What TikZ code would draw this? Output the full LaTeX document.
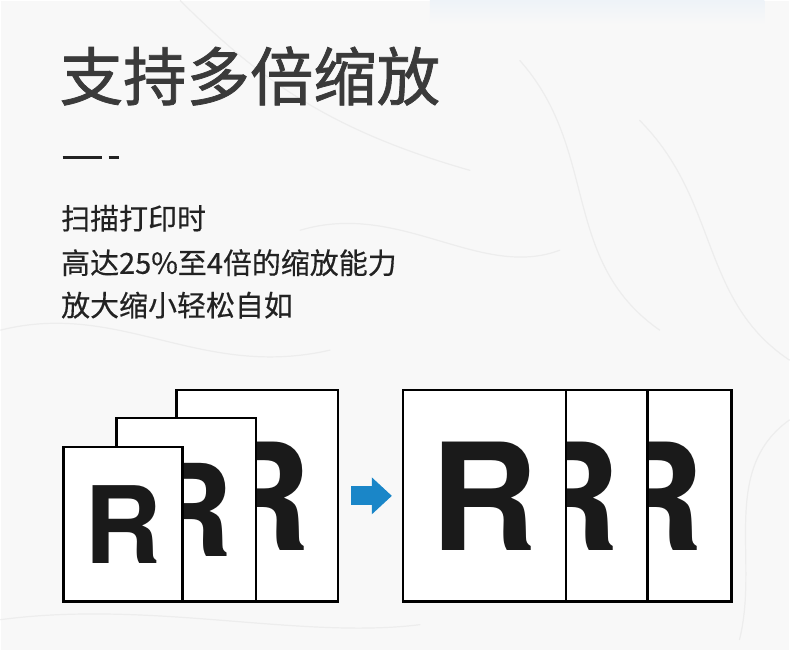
\documentclass[tikz,border=0pt]{standalone}
\usepackage{fontspec}
\setmainfont{TeX Gyre Heros}
\newfontfamily\cjk[FakeBold=0.4]{Noto Sans CJK SC}
\newfontfamily\cjkhead[FakeBold=1.2]{Noto Sans CJK SC}
\usetikzlibrary{arrows.meta}

\definecolor{marble}{HTML}{F8F8F8}
\definecolor{vein}{HTML}{EDEDED}
\definecolor{skyblue}{HTML}{EEF3F8}
\definecolor{ink}{HTML}{1A1A1A}
\definecolor{titlegray}{HTML}{3A3A3A}
\definecolor{textgray}{HTML}{222222}
\definecolor{arrowblue}{HTML}{1A86C8}

\tikzset{
  sheet/.style={draw=black, line width=2.4pt, fill=white, inner sep=0pt, text=ink},
  bodyline/.style={anchor=west, inner sep=0pt, text=textgray, font=\cjk\fontsize{29}{29}\selectfont},
  veinline/.style={vein, line width=1.2pt, line cap=round},
}
\newcommand{\Rsize}[1]{\fontsize{#1}{#1}\selectfont\bfseries}

\begin{document}
\begin{tikzpicture}[x=1pt, y=-1pt]
  \fill[marble] (0,0) rectangle (790,650);
  \shade[top color=skyblue, bottom color=marble] (430,0) rectangle (765,24);
  % marble veins
  \draw[veinline] (0,330) .. controls (120,300) and (200,380) .. (330,350);
  \draw[veinline] (180,0) .. controls (260,80) and (330,130) .. (470,170);
  \draw[veinline] (520,60) .. controls (600,150) and (560,260) .. (660,330);
  \draw[veinline] (640,120) .. controls (720,200) and (700,300) .. (790,360);
  \draw[veinline] (300,230) .. controls (400,200) and (480,280) .. (560,250);
  \draw[veinline] (0,620) .. controls (150,600) and (300,640) .. (420,625);
  \draw[veinline] (740,640) .. controls (760,560) and (720,470) .. (790,420);
  % heading
  \node[anchor=west, inner sep=0pt, text=titlegray, font=\cjkhead\fontsize{63.5}{63.5}\selectfont] (title) at (59,75.5) {支持多倍缩放};
  \draw[textgray, line width=3.3pt] (62,157.3) -- (101.5,157.3);
  \draw[textgray, line width=3.3pt] (108.3,157.3) -- (118.3,157.3);
  \node[bodyline] (line1) at (60.5,218) {扫描打印时};
  \node[bodyline] (line2) at (60.5,262.5) {高达25\%至4倍的缩放能力};
  \node[bodyline] (line3) at (60.5,305) {放大缩小轻松自如};
  % stacked pages
  \node[sheet, minimum width=162pt, minimum height=212pt, font=\Rsize{149}] (backL) at (257,496) {R};
  \node[sheet, minimum width=140pt, minimum height=184pt, font=\Rsize{128}] (midL) at (186,510) {R};
  \node[sheet, minimum width=119pt, minimum height=155pt, font=\Rsize{107}] (frontL) at (122.5,524.5) {R};
  % enlarged pages
  \node[sheet, minimum width=163pt, minimum height=212pt, font=\Rsize{149}] (pageC) at (650.5,496) {R};
  \node[sheet, minimum width=163pt, minimum height=212pt, font=\Rsize{149}] (pageB) at (566.5,496) {R};
  \node[sheet, minimum width=163pt, minimum height=212pt, font=\Rsize{149}] (pageA) at (484.5,496) {R};
  \draw[arrowblue, line width=19pt, -{Triangle[length=20pt,width=37pt,line width=0pt]},
        shorten <=12pt, shorten >=10pt] (backL.east) -- (pageA.west);
\end{tikzpicture}
\end{document}
